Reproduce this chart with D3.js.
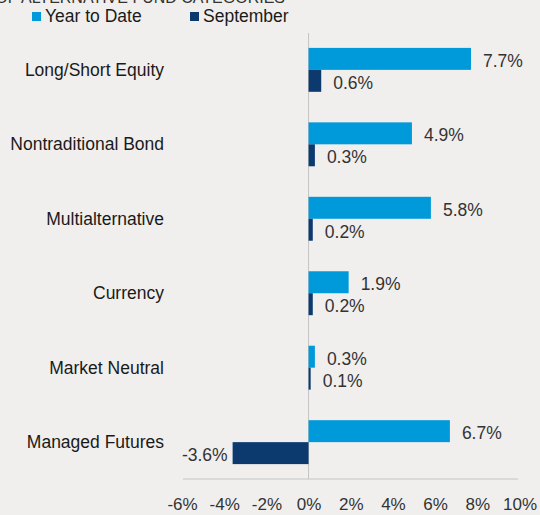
<!DOCTYPE html>
<meta charset="utf-8">
<head>
<style>
body { margin: 0; background: #f0efee; }
svg { display: block; font-family: 'Liberation Sans', Arial, sans-serif; }
.cat { font-size: 17.5px; fill: #1a1a1a; }
.val { font-size: 17.5px; fill: #333; }
.tick text { font-size: 17px; fill: #333; }
</style>
</head>
<body>
<svg width="540" height="515"></svg>
<script src="https://d3js.org/d3.v7.min.js"></script>
<script>

const categories = ['Long/Short Equity', 'Nontraditional Bond', 'Multialternative', 'Currency', 'Market Neutral', 'Managed Futures'];
const seriesNames = ['Year to Date', 'September'];
const yearToDate = [7.7, 4.9, 5.8, 1.9, 0.3, 6.7];
const september = [0.6, 0.3, 0.2, 0.2, 0.1, -3.6];
const tickValues = [-6, -4, -2, 0, 2, 4, 6, 8, 10];
const colors = ['#0099d9', '#0c3a6f'];

const svg = d3.select('svg');

const x = d3.scaleLinear().domain([-6, 10]).range([182, 519.5]);
const y = d3.scaleBand().domain(categories).range([33, 479]).paddingInner(0.41).paddingOuter(0.2);
const ySub = d3.scaleBand().domain(seriesNames).range([0, y.bandwidth()]);

// title, cut off at the top in the original
svg.append('text')
    .attr('x', 285)
    .attr('y', 3)
    .attr('text-anchor', 'end')
    .style('font-size', '16px')
    .style('fill', '#333')
    .text('RETURNS OF ALTERNATIVE FUND CATEGORIES');

// legend
const legend = svg.append('g').selectAll('g')
    .data(seriesNames)
    .join('g')
    .attr('transform', (d, i) => `translate(${[32, 190][i]},12)`);
legend.append('rect')
    .attr('width', 9)
    .attr('height', 9)
    .attr('fill', (d, i) => colors[i]);
legend.append('text')
    .attr('class', 'cat')
    .attr('x', 13)
    .attr('y', 10)
    .text(d => d);

// axis
const axis = svg.append('g')
    .attr('transform', 'translate(0,479)')
    .call(d3.axisBottom(x).tickValues(tickValues).tickSize(0).tickPadding(19).tickFormat(d => d + '%'));
axis.select('.domain').attr('stroke', '#c4c4c4').attr('d', 'M183,0H518');

// zero line
svg.append('line')
    .attr('x1', x(0)).attr('x2', x(0))
    .attr('y1', 33).attr('y2', 479)
    .attr('stroke', '#c4c4c4');

// category labels
svg.append('g').selectAll('text')
    .data(categories)
    .join('text')
    .attr('class', 'cat')
    .attr('x', 164)
    .attr('y', d => y(d) + y.bandwidth() / 2)
    .attr('dy', '0.35em')
    .attr('text-anchor', 'end')
    .text(d => d);

const rows = [];
categories.forEach((c, i) => {
    rows.push({cat: c, series: seriesNames[0], value: yearToDate[i], color: colors[0]});
    rows.push({cat: c, series: seriesNames[1], value: september[i], color: colors[1]});
});

svg.append('g').selectAll('rect')
    .data(rows)
    .join('rect')
    .attr('x', d => x(Math.min(0, d.value)))
    .attr('y', d => y(d.cat) + ySub(d.series))
    .attr('width', d => Math.abs(x(d.value) - x(0)))
    .attr('height', ySub.bandwidth())
    .attr('fill', d => d.color);

svg.append('g').selectAll('text')
    .data(rows)
    .join('text')
    .attr('class', 'val')
    .attr('x', d => d.value < 0 ? x(d.value) - 5 : x(d.value) + 12)
    .attr('y', d => y(d.cat) + ySub(d.series) + ySub.bandwidth() / 2 + 2)
    .attr('dy', '0.35em')
    .attr('text-anchor', d => d.value < 0 ? 'end' : 'start')
    .text(d => d.value.toFixed(1) + '%');

</script>
</body>
